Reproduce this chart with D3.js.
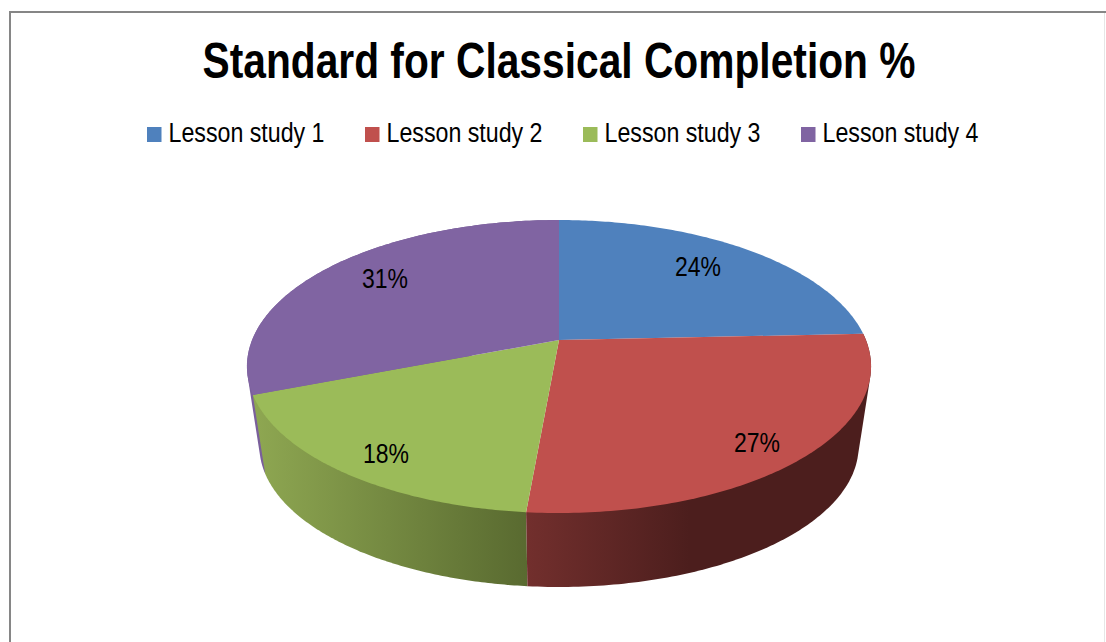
<html>

<head>
    <script src="https://d3js.org/d3.v7.min.js"></script>
    <style>
        body {
            margin: 0;
            background: #fff;
        }

        text {
            font-family: "Liberation Sans Narrow", "Liberation Sans", sans-serif;
            fill: #000;
        }
    </style>
</head>

<body>
    <svg id="chart" width="1106" height="642"></svg>
    <script>
        const chartTitle = "Standard for Classical Completion %";
        const categories = ["Lesson study 1", "Lesson study 2", "Lesson study 3", "Lesson study 4"];
        const values = [24.3, 27.1, 17.7, 30.9];
        const topColors = ["#4f81bd", "#c0504d", "#9bbb59", "#8064a2"];

        // side wall shading, left to right
        const wallColors = [
            ["#4f81bd", "#3a5f8c"],
            ["#722f2d", "#4c1e1d"],
            ["#8fa852", "#596a30"],
            ["#7a5f9c", "#6f578e"]
        ];

        const svg = d3.select("#chart");

        // frame
        svg.append("path").attr("d", "M10,642V12H1106").attr("fill", "none").attr("stroke", "#868686").attr("stroke-width", 2);
        svg.append("line").attr("x1", 1104.5).attr("x2", 1104.5).attr("y1", 13).attr("y2", 642).attr("stroke", "#e6e6e6");

        svg.append("text")
            .attr("x", 559)
            .attr("y", 78)
            .attr("text-anchor", "middle")
            .attr("font-weight", "bold")
            .attr("font-size", 50)
            .attr("textLength", 713)
            .attr("lengthAdjust", "spacingAndGlyphs")
            .text(chartTitle);

        // legend
        const legendX = d3.scalePoint().domain(categories).range([147, 801]);
        const legend = svg.selectAll(".legend").data(categories).enter().append("g")
            .attr("class", "legend")
            .attr("transform", d => "translate(" + legendX(d) + ",127)");
        legend.append("rect")
            .attr("width", 14.5)
            .attr("height", 15)
            .attr("fill", (d, i) => topColors[i]);
        legend.append("text")
            .attr("x", 21.5)
            .attr("y", 15)
            .attr("font-size", 27)
            .attr("textLength", 156)
            .attr("lengthAdjust", "spacingAndGlyphs")
            .text(d => d);

        // perspective of the tilted pie
        const cx = 559, cy = 340, rx = 306.9, ry = 141.7, tilt = 0.181;
        const depthScale = 0.96, vanishY = 2362;

        function topRim(a) {
            const w = 1 + tilt * Math.cos(a);
            return [cx + rx * Math.sin(a) / w, cy - ry * Math.cos(a) / w];
        }

        function bottomRim(a) {
            const p = topRim(a);
            return [cx + depthScale * (p[0] - cx), vanishY + depthScale * (p[1] - vanishY)];
        }

        const rimLine = d3.line();
        const pie = d3.pie().sort(null).value(d => d);
        const slices = pie(values);

        function angles(d) {
            return d3.range(0, 121).map(i => d.startAngle + (d.endAngle - d.startAngle) * i / 120);
        }

        const defs = svg.append("defs");
        const walls = svg.append("g");
        const tops = svg.append("g");

        // walls back to front, the blue one stays hidden behind the top
        [3, 2, 1].forEach(i => {
            const grad = defs.append("linearGradient")
                .attr("id", "wall" + i)
                .attr("gradientUnits", "userSpaceOnUse")
                .attr("x1", i === 1 ? 527 : 250)
                .attr("x2", i === 1 ? 690 : 527)
                .attr("y1", 0)
                .attr("y2", 0);
            grad.append("stop").attr("offset", 0).attr("stop-color", wallColors[i][0]);
            grad.append("stop").attr("offset", 1).attr("stop-color", wallColors[i][1]);

            // hull so the edge runs straight between the two rims
            const as = angles(slices[i]);
            const hull = d3.polygonHull(as.map(topRim).concat(as.map(bottomRim)));
            walls.append("path")
                .attr("d", rimLine(hull) + "Z")
                .attr("fill", "url(#wall" + i + ")");
        });

        tops.selectAll("path").data(slices).enter().append("path")
            .attr("d", d => rimLine([[cx, cy]].concat(angles(d).map(topRim))) + "Z")
            .attr("fill", (d, i) => topColors[i]);

        // data labels
        const labelPos = [[698, 276], [757, 452], [386, 463], [385, 288]];
        svg.selectAll(".pct").data(values).enter().append("text")
            .attr("class", "pct")
            .attr("x", (d, i) => labelPos[i][0])
            .attr("y", (d, i) => labelPos[i][1])
            .attr("text-anchor", "middle")
            .attr("font-size", 27)
            .attr("textLength", 46)
            .attr("lengthAdjust", "spacingAndGlyphs")
            .text(d => Math.round(d) + "%");
    </script>
</body>

</html>
